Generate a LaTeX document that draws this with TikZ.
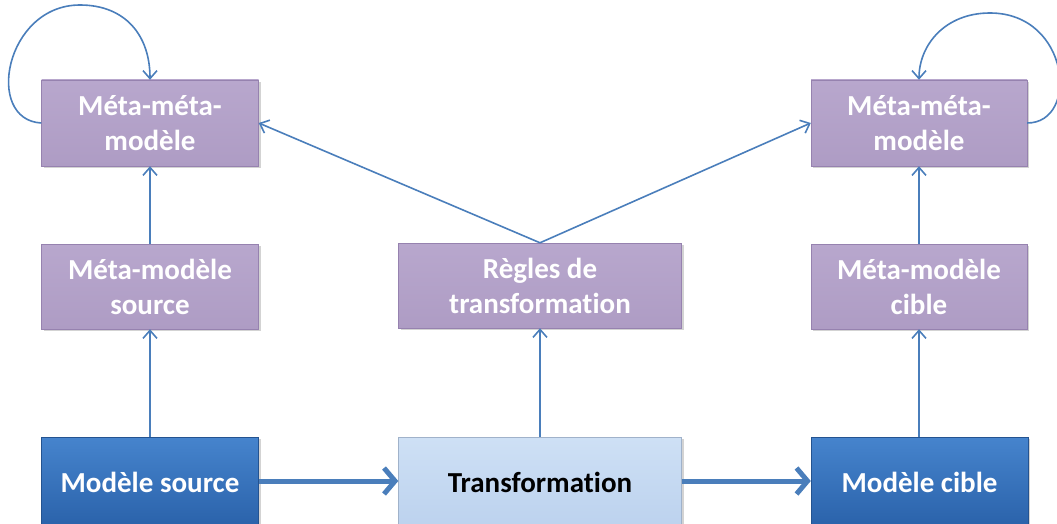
\documentclass[tikz,border=0pt]{standalone}
\usepackage{fontspec}
\setmainfont{Carlito}[Ligatures=NoCommon]
\usetikzlibrary{arrows.meta,shadows}
\definecolor{lnblue}{RGB}{74,126,187}
\definecolor{purpT}{RGB}{184,167,205}
\definecolor{purpB}{RGB}{174,156,196}
\definecolor{purpE}{RGB}{150,130,175}
\definecolor{dblueT}{RGB}{70,132,205}
\definecolor{dblueB}{RGB}{42,98,170}
\definecolor{lblueT}{RGB}{206,224,245}
\definecolor{lblueB}{RGB}{188,210,238}
\tikzset{
  box/.style={rectangle, inner sep=0pt, align=center, font=\fontsize{29}{35}\selectfont\bfseries,
    drop shadow={opacity=0.35, shadow xshift=2pt, shadow yshift=-2pt}},
  purplebox/.style={box, top color=purpT, bottom color=purpB, draw=purpE, line width=0.4pt, text=white},
  darkbox/.style={box, top color=dblueT, bottom color=dblueB, draw=dblueB!85!black, line width=0.4pt, text=white},
  lightbox/.style={box, top color=lblueT, bottom color=lblueB, draw=lblueB!85!black, line width=0.4pt, text=black},
  thin/.style={draw=lnblue, line width=1.6pt, -{Straight Barb[length=8pt,width=14pt,line width=1.6pt]}},
  thick/.style={draw=lnblue, line width=5pt, -{Straight Barb[length=11pt,width=26pt,line width=5pt]}}
}
\begin{document}
\begin{tikzpicture}[x=1pt,y=-1pt]
\useasboundingbox (0,0) rectangle (1057,524);
\begin{scope}
\clip (0,0) rectangle (1057,524);
\node[purplebox, minimum width=217pt, minimum height=86pt] (mmmL) at (150,123) {Méta-méta-\\modèle};
\node[purplebox, minimum width=216pt, minimum height=86pt] (mmmR) at (919,123) {Méta-méta-\\modèle};
\node[purplebox, minimum width=217pt, minimum height=85pt] (mmsrc) at (150,286.5) {Méta-modèle\\source};
\node[purplebox, minimum width=283pt, minimum height=85pt] (regles) at (540,285.5) {Règles de\\transformation};
\node[purplebox, minimum width=216pt, minimum height=85pt] (mmcib) at (919,286.5) {Méta-modèle\\cible};
\node[darkbox, minimum width=217pt, minimum height=90pt] (msrc) at (150,482) {Modèle source};
\node[lightbox, minimum width=283pt, minimum height=90pt] (transf) at (540,482) {Transformation};
\node[darkbox, minimum width=217pt, minimum height=90pt] (mcib) at (919.5,482) {Modèle cible};

\draw[thin] (msrc.north) -- (mmsrc.south);
\draw[thin] (mmsrc.north) -- (mmmL.south);
\draw[thin] (mcib.north -| mmcib.south) -- (mmcib.south);
\draw[thin] (mmcib.north) -- (mmmR.south);
\draw[thin] (transf.north) -- (regles.south);
\draw[thin] (regles.north) -- (mmmL.east);
\draw[thin] (regles.north) -- (mmmR.west);
\draw[thick] (msrc.east |- 0,481) -- (transf.west |- 0,481);
\draw[thick] (transf.east |- 0,481) -- (mcib.west |- 0,481);
\draw[thin] (mmmL.west) .. controls (-16,120) and (5,5) .. (80,5) .. controls (125,5) and (150,35) .. (mmmL.north);
\draw[thin] (mmmR.east) .. controls (1080,123) and (1070,13) .. (990,13) .. controls (945,13) and (919,45) .. (mmmR.north);
\end{scope}
\end{tikzpicture}
\end{document}
